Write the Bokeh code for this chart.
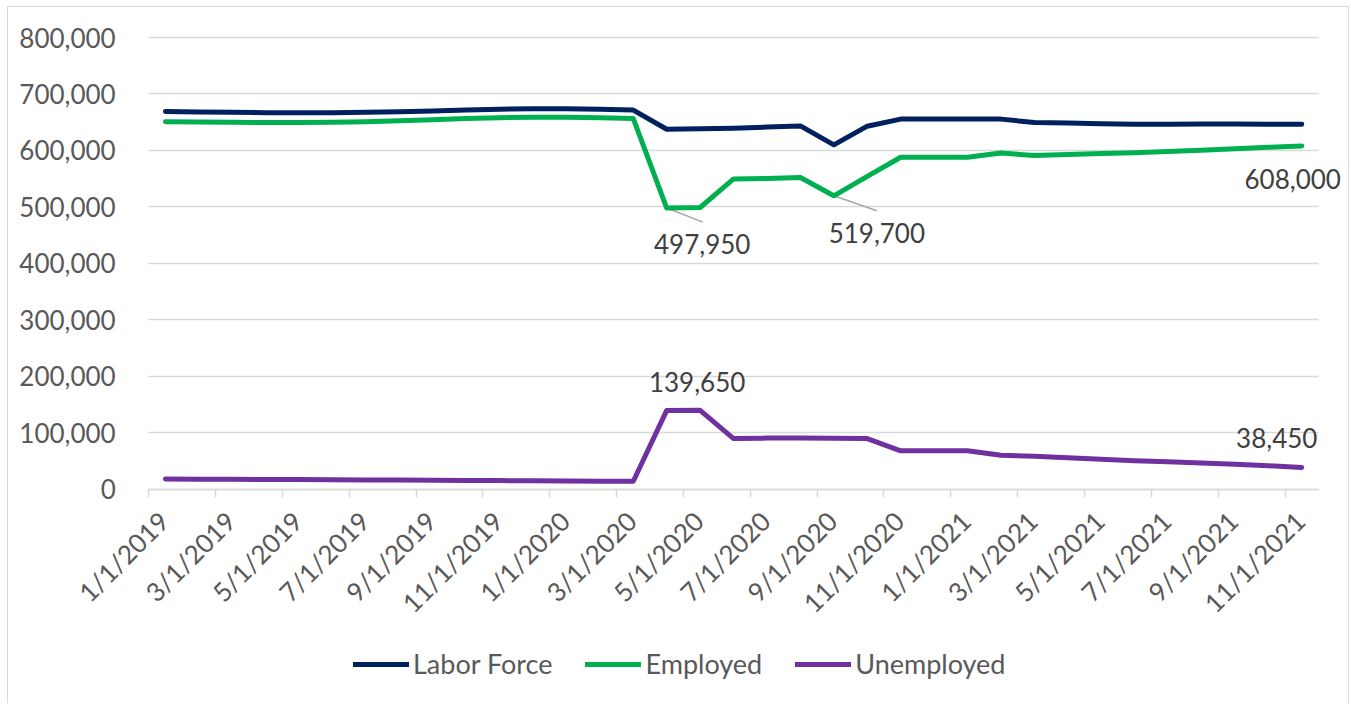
import math
from bokeh.plotting import figure
from bokeh.models import (Range1d, LinearAxis, FixedTicker, Legend, LegendItem, Label,
                          NumeralTickFormatter, CustomJSTickFormatter, ColumnDataSource)
from bokeh.embed import file_html
from bokeh.resources import INLINE

# ---------------- data ----------------
months = ["1/1/2019", "2/1/2019", "3/1/2019", "4/1/2019", "5/1/2019", "6/1/2019",
          "7/1/2019", "8/1/2019", "9/1/2019", "10/1/2019", "11/1/2019", "12/1/2019",
          "1/1/2020", "2/1/2020", "3/1/2020", "4/1/2020", "5/1/2020", "6/1/2020",
          "7/1/2020", "8/1/2020", "9/1/2020", "10/1/2020", "11/1/2020", "12/1/2020",
          "1/1/2021", "2/1/2021", "3/1/2021", "4/1/2021", "5/1/2021", "6/1/2021",
          "7/1/2021", "8/1/2021", "9/1/2021", "10/1/2021", "11/1/2021"]

labor_force = [669000, 668000, 667500, 667000, 667000, 667000, 667500, 668500, 670000,
               671500, 673000, 674000, 674000, 673000, 671500, 637500, 638600, 639500,
               641500, 643500, 610000, 643000, 655500, 655500, 655500, 655500, 649500,
               648500, 647500, 646500, 646500, 647000, 647000, 646500, 646450]

employed = [651000, 650500, 650000, 649500, 649500, 650000, 651000, 652500, 654500,
            656500, 658000, 659000, 659000, 658000, 656500, 497950, 498950, 549500,
            550500, 552000, 519700, 554000, 588000, 588000, 588000, 595500, 591000,
            593000, 594500, 596000, 598000, 600500, 603000, 605500, 608000]

unemployed = [18000, 17800, 17500, 17300, 17000, 16800, 16500, 16200, 15800,
              15500, 15200, 15000, 14500, 14200, 14000, 139550, 139650, 89600,
              90500, 90800, 90300, 89600, 68000, 68000, 68000, 60000, 58500,
              55500, 53000, 50500, 48500, 46500, 44000, 41500, 38450]

tick_labels = ["1/1/2019", "3/1/2019", "5/1/2019", "7/1/2019", "9/1/2019", "11/1/2019",
               "1/1/2020", "3/1/2020", "5/1/2020", "7/1/2020", "9/1/2020", "11/1/2020",
               "1/1/2021", "3/1/2021", "5/1/2021", "7/1/2021", "9/1/2021", "11/1/2021"]

y_ticks = [0, 100000, 200000, 300000, 400000, 500000, 600000, 700000, 800000]

series_names = ["Labor Force", "Employed", "Unemployed"]

# ---------------- style ----------------
COLORS = ["#002060", "#00B050", "#7030A0"]
FONT = "Lato"
AXIS_TXT = "#595959"
LABEL_TXT = "#404040"
GRID = "#d9d9d9"
n = len(months)
EXTRA = 0.75                      # empty room right of the last month, so end labels are not clipped
PXM = 1168 / n                    # pixels per month
W, H = 1342, 697
CW, CH = W - 2, H - 1             # canvas size inside the border
LEFT, TOP = 140, 30               # canvas pixels to x=0 / to the top tick
PLOT_H = 451                      # pixels from 0 to the top tick
FRAME_W = round(LEFT + PXM * (n + EXTRA))
LABEL_SHIFT = 0.45                # months, shift of the rotated tick labels relative to tick marks

x = [i + 0.5 for i in range(n)]
y_top = y_ticks[-1]
PXV = PLOT_H / y_top
y_max = y_top + TOP / PXV                     # frame reaches the canvas top
y_min = -(CH - TOP - PLOT_H) / PXV            # ... and the canvas bottom
x_min = -LEFT / PXM

p = figure(width=W, height=H, output_backend="svg", toolbar_location=None,
           x_range=Range1d(x_min, n + EXTRA), y_range=Range1d(y_min, y_max),
           x_axis_location=None,
           min_border_left=0, min_border_right=CW - FRAME_W,
           min_border_top=0, min_border_bottom=0)
p.styles = {"border-left": "1px solid #d9d9d9", "border-top": "1px solid #d9d9d9",
            "border-right": "1px solid #d9d9d9", "margin-left": "7px", "margin-top": "6px"}
p.outline_line_color = None
p.background_fill_color = "white"
p.border_fill_color = "white"
for g in p.xgrid:
    g.visible = False
p.ygrid.grid_line_color = GRID
p.ygrid.grid_line_width = 1.3
p.ygrid.cross_bounds = (0, n)

yax = p.yaxis[0]
yax.fixed_location = 0
yax.ticker = FixedTicker(ticks=y_ticks)
yax.formatter = NumeralTickFormatter(format="0,0")
yax.axis_line_color = None
yax.major_tick_line_color = None
yax.minor_tick_line_color = None
yax.major_label_standoff = 27
yax.major_label_text_font = FONT
yax.major_label_text_font_size = "26px"
yax.major_label_text_color = AXIS_TXT

boundaries = list(range(0, n, 2))
ax_ticks = LinearAxis(ticker=FixedTicker(ticks=boundaries), bounds=(0, n), fixed_location=0,
                      formatter=CustomJSTickFormatter(code="return ''"),
                      axis_line_color=GRID, axis_line_width=1.5,
                      major_tick_line_color=GRID, major_tick_line_width=1.5,
                      major_tick_out=8, major_tick_in=0,
                      minor_tick_line_color=None,
                      major_label_standoff=0, major_label_text_font_size="1px")
ax_labels = LinearAxis(ticker=FixedTicker(ticks=[b + LABEL_SHIFT for b in boundaries]),
                       fixed_location=0,
                       formatter=CustomJSTickFormatter(
                           args=dict(labels=tick_labels, shift=LABEL_SHIFT),
                           code="const i = Math.round((tick - shift) / 2); return labels[i] ?? '';"),
                       axis_line_color=None, major_tick_line_color=None,
                       minor_tick_line_color=None, major_tick_out=0, major_tick_in=0,
                       major_label_orientation=math.pi / 4,
                       major_label_standoff=27,
                       major_label_text_font=FONT, major_label_text_font_size="26px",
                       major_label_text_color=AXIS_TXT)
p.add_layout(ax_ticks, "below")
p.add_layout(ax_labels, "below")

# leader lines for two data labels
leaders = [(15, 36, 14), (20, 43, 15)]  # (index, dx px, dy px down)
p.segment(x0=[x[i] for i, _, _ in leaders], y0=[employed[i] for i, _, _ in leaders],
          x1=[x[i] + dx / PXM for i, dx, _ in leaders],
          y1=[employed[i] - dy / PXV for i, _, dy in leaders],
          line_color="#a6a6a6", line_width=1.5)

src = ColumnDataSource(dict(x=x, lf=labor_force, emp=employed, unemp=unemployed))
renderers = []
for col, color in zip(["lf", "emp", "unemp"], COLORS):
    r = p.line("x", col, source=src, line_color=color, line_width=5,
               line_cap="round", line_join="round")
    renderers.append(r)

legend = Legend(items=[LegendItem(label=nm, renderers=[r]) for nm, r in zip(series_names, renderers)],
                orientation="horizontal", location=(345, 24),
                glyph_width=56, glyph_height=20, label_standoff=4, spacing=33,
                padding=0, margin=0, border_line_color=None, background_fill_alpha=0,
                label_text_font=FONT, label_text_font_size="27px", label_text_color=AXIS_TXT)
p.add_layout(legend)

# data labels: (series values, index, x offset px, y offset px)
data_labels = [(employed, 15, 35.5, -36), (employed, 20, 43, -37), (employed, 34, -9, -33),
               (unemployed, 16, -3, 28), (unemployed, 34, -25, 29)]
for vals, i, dx, dy in data_labels:
    p.add_layout(Label(x=x[i], y=vals[i], x_offset=dx, y_offset=dy, text=f"{vals[i]:,}",
                       text_align="center", text_baseline="middle",
                       text_font=FONT, text_font_size="26px", text_color=LABEL_TXT))

open("out.html", "w").write(file_html(p, INLINE))
